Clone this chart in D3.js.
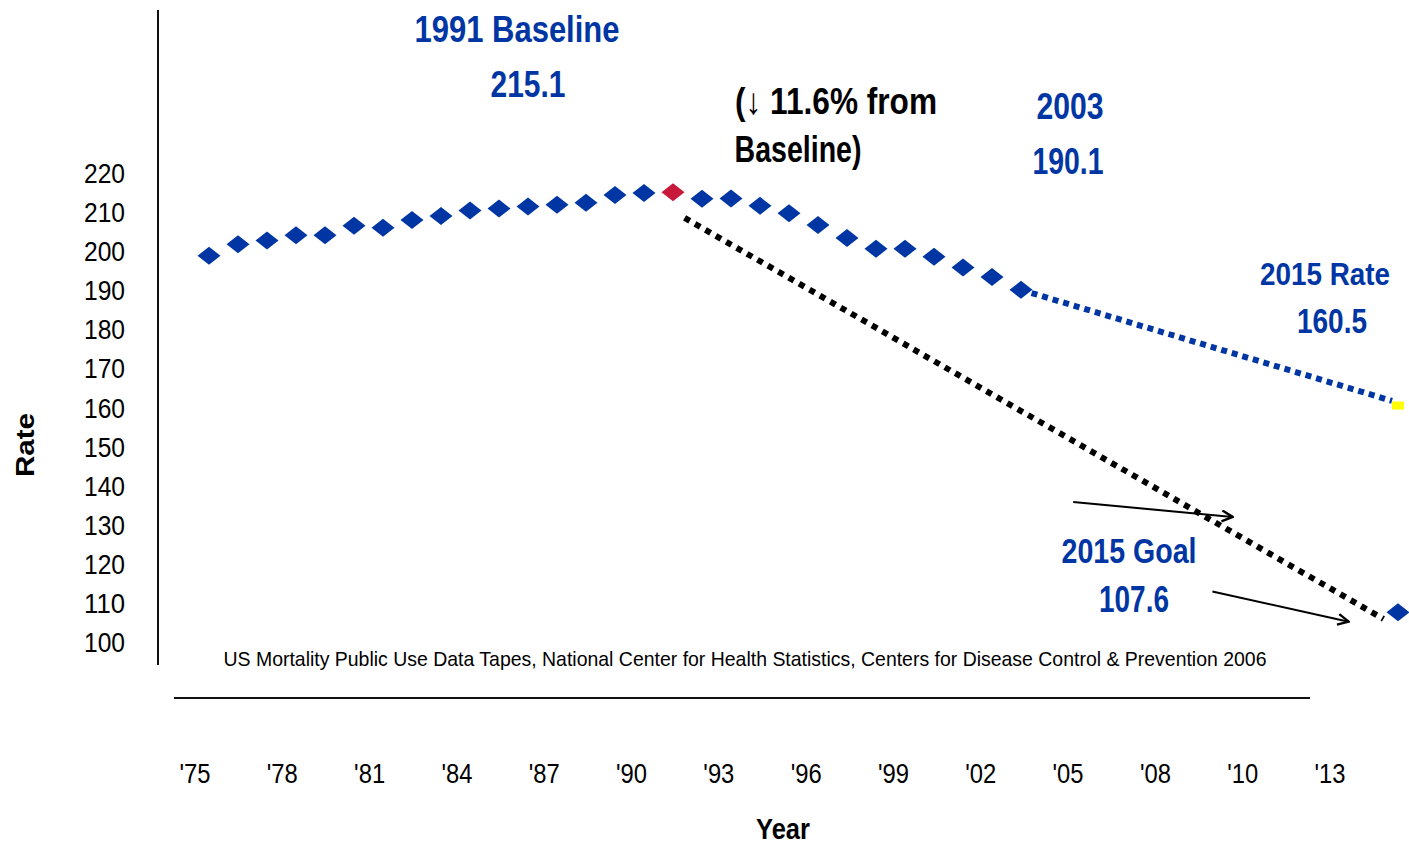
<!DOCTYPE html>
<html lang="en">
<head>
    <meta charset="UTF-8">
    <script type="text/javascript" src="https://d3js.org/d3.v7.min.js"></script>
    <title>Rate by Year</title>
    <style>
        body { margin: 0; background: #fff; }
        text { font-family: "Liberation Sans", Arial, sans-serif; }
    </style>
</head>
<body>
    <script type="text/javascript">
        const width = 1409;
        const height = 846;

        // observed rates, 1975-2003
        const years = d3.range(1975, 2004);
        const rates = [198.8, 201.8, 202.7, 204.1, 204.1, 206.5, 206.0, 208.0, 209.0, 210.4,
                       210.9, 211.4, 211.9, 212.4, 214.4, 214.9, 215.1, 213.4, 213.5, 211.6,
                       209.7, 206.7, 203.4, 200.6, 200.6, 198.6, 195.8, 193.4, 190.1];
        const baselineYear = 1991;

        // 2015 sits in the last category slot of the chart
        const targetSlot = 41;
        const rate2015 = 160.5;
        const goal2015 = 107.6;

        // goal trend line drawn separately (slot, value)
        const goalLine = [[16.4, 208.5], [40.5, 105.9]];

        const yTicks = d3.range(100, 221, 10);
        const xTickLabels = ["'75", "'78", "'81", "'84", "'87", "'90", "'93", "'96", "'99", "'02", "'05", "'08", "'10", "'13"];

        const arrows = [
            [[29.8, 135.8], [35.3, 132.0]],
            [[34.6, 112.9], [39.3, 105.2]]
        ];

        const blue = '#0036a3';

        const svg = d3.select('body')
            .append('svg')
            .attr('width', width)
            .attr('height', height);

        const x = d3.scaleLinear().domain([0, targetSlot]).range([209, 1398]);
        const y = d3.scaleLinear().domain([100, 220]).range([642, 173]);
        const xLabel = d3.scalePoint().domain(xTickLabels).range([195, 1330]);

        const defs = svg.append('defs');
        defs.append('marker')
            .attr('id', 'open-arrow')
            .attr('viewBox', '0 0 12 12')
            .attr('refX', 11).attr('refY', 6)
            .attr('markerWidth', 13).attr('markerHeight', 13)
            .attr('markerUnits', 'userSpaceOnUse')
            .attr('orient', 'auto')
            .append('path')
            .attr('d', 'M1,1 L11,6 L1,11')
            .attr('fill', 'none')
            .attr('stroke', '#000')
            .attr('stroke-width', 2.2);

        // axis frame lines
        svg.append('line')
            .attr('x1', 158).attr('x2', 158).attr('y1', 10).attr('y2', 665)
            .attr('stroke', '#111').attr('stroke-width', 2);
        svg.append('line')
            .attr('x1', 174).attr('x2', 1310).attr('y1', 698).attr('y2', 698)
            .attr('stroke', '#111').attr('stroke-width', 2);

        // y tick labels
        svg.append('g').selectAll('text')
            .data(yTicks)
            .enter()
            .append('text')
            .attr('x', 125)
            .attr('y', d => y(d))
            .attr('dy', '0.36em')
            .attr('text-anchor', 'end')
            .attr('font-size', 28)
            .attr('textLength', 41)
            .attr('lengthAdjust', 'spacingAndGlyphs')
            .text(d => d);

        // x tick labels
        svg.append('g').selectAll('text')
            .data(xTickLabels)
            .enter()
            .append('text')
            .attr('x', d => xLabel(d))
            .attr('y', 773)
            .attr('dy', '0.36em')
            .attr('text-anchor', 'middle')
            .attr('font-size', 28)
            .attr('textLength', 31)
            .attr('lengthAdjust', 'spacingAndGlyphs')
            .text(d => d);

        // goal line (black dotted)
        svg.append('line')
            .attr('x1', x(goalLine[0][0])).attr('y1', y(goalLine[0][1]))
            .attr('x2', x(goalLine[1][0])).attr('y2', y(goalLine[1][1]))
            .attr('stroke', '#000')
            .attr('stroke-width', 6)
            .attr('stroke-dasharray', '6,6');

        // projection to 2015 rate (blue dotted)
        svg.append('line')
            .attr('x1', x(years.length - 1)).attr('y1', y(rates[rates.length - 1]))
            .attr('x2', x(targetSlot) - 6).attr('y2', y(rate2015 + 1.2))
            .attr('stroke', blue)
            .attr('stroke-width', 6)
            .attr('stroke-dasharray', '6,5');

        const diamond = 'M0,-9 L11.5,0 L0,9 L-11.5,0 Z';

        svg.append('g').selectAll('path')
            .data(years)
            .enter()
            .append('path')
            .attr('d', diamond)
            .attr('transform', (d, i) => `translate(${x(i)},${y(rates[i])})`)
            .attr('fill', d => d === baselineYear ? '#c8193c' : blue);

        // 2015 goal marker
        svg.append('path')
            .attr('d', diamond)
            .attr('transform', `translate(${x(targetSlot)},${y(goal2015)})`)
            .attr('fill', blue);

        // 2015 rate marker
        svg.append('rect')
            .attr('x', x(targetSlot) - 6)
            .attr('y', y(rate2015) - 4)
            .attr('width', 12)
            .attr('height', 8)
            .attr('fill', '#ffff00');

        // annotation arrows
        svg.append('g').selectAll('line')
            .data(arrows)
            .enter()
            .append('line')
            .attr('x1', d => x(d[0][0])).attr('y1', d => y(d[0][1]))
            .attr('x2', d => x(d[1][0])).attr('y2', d => y(d[1][1]))
            .attr('stroke', '#000')
            .attr('stroke-width', 2)
            .attr('marker-end', 'url(#open-arrow)');

        // annotation texts
        const notes = [
            { t: '1991 Baseline', x: 517, y: 42, w: 205, s: 37, c: blue },
            { t: '215.1', x: 528, y: 97, w: 75, s: 37, c: blue },
            { t: '2003', x: 1070, y: 119, w: 67, s: 37, c: blue },
            { t: '190.1', x: 1068, y: 174, w: 71, s: 37, c: blue },
            { t: '2015 Rate', x: 1325, y: 285, w: 130, s: 32, c: blue },
            { t: '160.5', x: 1332, y: 333, w: 70, s: 35, c: blue },
            { t: '2015 Goal', x: 1129, y: 563, w: 135, s: 35, c: blue },
            { t: '107.6', x: 1134, y: 612, w: 70, s: 37, c: blue },
            { t: '(\u2193 11.6% from', x: 836, y: 114, w: 202, s: 37, c: '#000' },
            { t: 'Baseline)', x: 798, y: 162, w: 127, s: 37, c: '#000' }
        ];

        svg.append('g').selectAll('text')
            .data(notes)
            .enter()
            .append('text')
            .attr('x', d => d.x)
            .attr('y', d => d.y)
            .attr('text-anchor', 'middle')
            .attr('font-size', d => d.s)
            .attr('font-weight', 'bold')
            .attr('fill', d => d.c)
            .attr('textLength', d => d.w)
            .attr('lengthAdjust', 'spacingAndGlyphs')
            .text(d => d.t);

        // source note
        svg.append('text')
            .attr('x', 745)
            .attr('y', 666)
            .attr('text-anchor', 'middle')
            .attr('font-size', 21)
            .attr('textLength', 1043)
            .attr('lengthAdjust', 'spacingAndGlyphs')
            .text('US Mortality Public Use Data Tapes, National Center for Health Statistics, Centers for Disease Control & Prevention 2006');

        // axis titles
        svg.append('text')
            .attr('transform', 'translate(34,445) rotate(-90)')
            .attr('text-anchor', 'middle')
            .attr('font-size', 26)
            .attr('font-weight', 'bold')
            .attr('textLength', 64)
            .attr('lengthAdjust', 'spacingAndGlyphs')
            .text('Rate');

        svg.append('text')
            .attr('x', 783)
            .attr('y', 839)
            .attr('text-anchor', 'middle')
            .attr('font-size', 30)
            .attr('font-weight', 'bold')
            .attr('textLength', 54)
            .attr('lengthAdjust', 'spacingAndGlyphs')
            .text('Year');
    </script>
</body>
</html>
